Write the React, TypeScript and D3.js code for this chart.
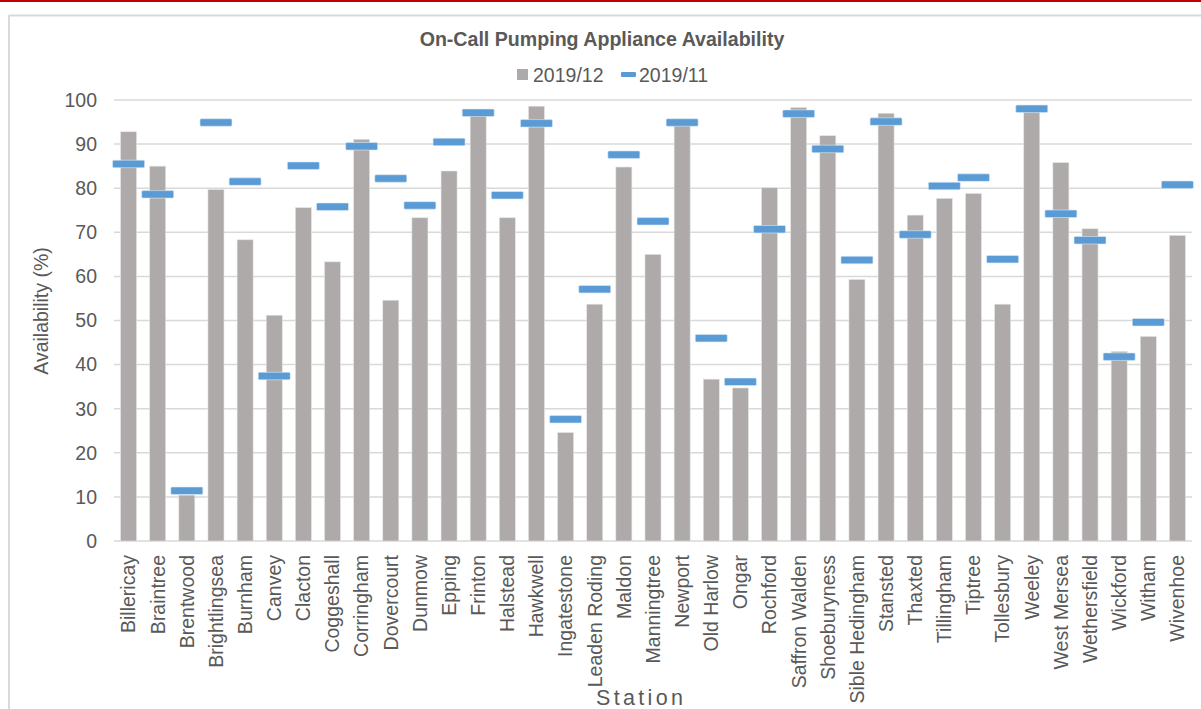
import { scaleBand, scaleLinear } from "d3";

const stations = [
  "Billericay", "Braintree", "Brentwood", "Brightlingsea", "Burnham", "Canvey",
  "Clacton", "Coggeshall", "Corringham", "Dovercourt", "Dunmow", "Epping",
  "Frinton", "Halstead", "Hawkwell", "Ingatestone", "Leaden Roding", "Maldon",
  "Manningtree", "Newport", "Old Harlow", "Ongar", "Rochford", "Saffron Walden",
  "Shoeburyness", "Sible Hedingham", "Stansted", "Thaxted", "Tillingham", "Tiptree",
  "Tollesbury", "Weeley", "West Mersea", "Wethersfield", "Wickford", "Witham", "Wivenhoe",
];

// 2019/12 (bars)
const dec2019 = [
  92.8, 85.0, 10.4, 79.7, 68.3, 51.2, 75.6, 63.3, 91.1, 54.6, 73.3, 83.9,
  97.0, 73.3, 98.6, 24.6, 53.7, 84.8, 65.0, 95.0, 36.7, 34.7, 80.1, 98.3,
  91.9, 59.3, 97.0, 73.9, 77.7, 78.8, 53.7, 97.5, 85.8, 70.8, 43.0, 46.4, 69.3,
];

// 2019/11 (dash markers)
const nov2019 = [
  85.5, 78.6, 11.4, 94.9, 81.5, 37.4, 85.1, 75.8, 89.5, 82.2, 76.1, 90.5,
  97.1, 78.4, 94.7, 27.6, 57.1, 87.6, 72.5, 94.9, 46.0, 36.1, 70.7, 96.9,
  88.9, 63.7, 95.1, 69.5, 80.5, 82.4, 63.9, 98.0, 74.2, 68.2, 41.8, 49.6, 80.8,
];

const yTicks = [0, 10, 20, 30, 40, 50, 60, 70, 80, 90, 100];

const W = 1201;
const H = 709;
const font = "'Liberation Sans', Arial, sans-serif";
const textColor = "#595959";
const grid = "#D9D9D9";
const barColor = "#AEAAAA";
const dashColor = "#5B9BD5";
const fs = 19.5;

export default function App() {
  const x = scaleBand<string>().domain(stations).range([114, 1192]).paddingInner(0.45).paddingOuter(0.225);
  const y = scaleLinear().domain([0, 100]).range([541, 100]);

  return (
    <div style={{ position: "absolute", left: 0, top: 0 }}>
      <svg width={W} height={H} style={{ display: "block", fontFamily: font }}>
        <rect x={0} y={0} width={W} height={H} fill="#fff" />
        <rect x={0} y={0} width={W} height={2} fill="#C00000" />
        <line x1={9} x2={W} y1={15.5} y2={15.5} stroke={grid} strokeWidth={2} />
        <line x1={9} x2={9} y1={15} y2={H} stroke={grid} strokeWidth={2} />

        <text x={602} y={46} textAnchor="middle" fontSize={19.6} fontWeight="bold" fill={textColor}>
          On-Call Pumping Appliance Availability
        </text>

        {/* legend */}
        <rect x={517} y={69} width={11} height={11} fill={barColor} />
        <text x={533} y={82} fontSize={fs} fill={textColor}>2019/12</text>
        <rect x={621} y={72} width={15} height={5} rx={1} fill={dashColor} />
        <text x={639} y={82} fontSize={fs} fill={textColor}>2019/11</text>

        {/* gridlines + y labels */}
        {yTicks.map((t) => (
          <g key={t}>
            <line x1={114} x2={1192} y1={y(t)} y2={y(t)} stroke={grid} strokeWidth={1.5} />
            <text x={97} y={y(t)} dy="0.35em" textAnchor="end" fontSize={fs} fill={textColor}>
              {t}
            </text>
          </g>
        ))}

        <text
          transform={`translate(48,311) rotate(-90)`}
          textAnchor="middle"
          fontSize={fs}
          fill={textColor}
        >
          Availability (%)
        </text>

        {/* bars */}
        {stations.map((s, i) => (
          <rect
            key={s}
            x={x(s)!}
            y={y(dec2019[i])}
            width={x.bandwidth()}
            height={y(0) - y(dec2019[i])}
            fill={barColor}
            stroke="#E6E4E4"
            strokeWidth={0.6}
          />
        ))}

        {/* dashes */}
        {stations.map((s, i) => {
          const cx = x(s)! + x.bandwidth() / 2;
          return (
            <rect
              key={s}
              x={cx - 16}
              y={y(nov2019[i]) - 3.75}
              width={32}
              height={7.5}
              rx={1.2}
              fill={dashColor}
              stroke="#DCE9F5"
              strokeWidth={0.6}
            />
          );
        })}

        {/* x labels */}
        {stations.map((s) => {
          const cx = x(s)! + x.bandwidth() / 2;
          return (
            <text
              key={s}
              transform={`translate(${cx},555) rotate(-90)`}
              textAnchor="end"
              dy="0.35em"
              fontSize={fs}
              fill={textColor}
            >
              {s}
            </text>
          );
        })}

        <text x={596} y={705} fontSize={21.5} textLength={87} lengthAdjust="spacing" fill={textColor}>
          Station
        </text>
      </svg>
    </div>
  );
}
